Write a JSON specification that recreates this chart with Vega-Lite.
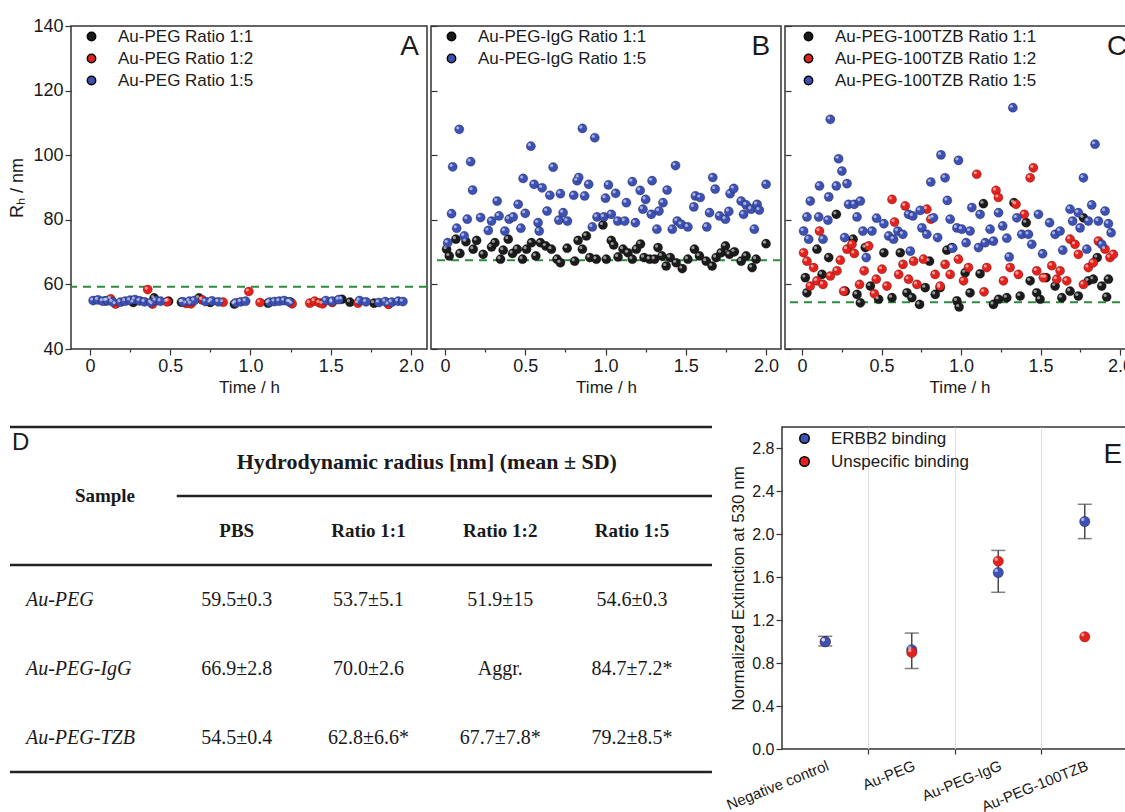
{
"$schema": "https://vega.github.io/schema/vega-lite/v6.json",
"background": "white",
"padding": {"left": 8, "top": 16, "right": 0, "bottom": 0},
"spacing": 29,
"config": {
  "font": "Liberation Sans",
  "view": {"stroke": "#333", "strokeWidth": 1.5},
  "axis": {"labelColor": "#1a1a1a", "titleColor": "#1a1a1a", "tickColor": "#333", "domainColor": "#333", "titleFontWeight": "normal", "grid": false, "tickWidth": 1.2},
  "legend": {"labelColor": "#1a1a1a", "labelLimit": 0}
},
"resolve": {"scale": {"color": "independent"}, "legend": {"color": "independent"}},
"datasets": {
  "ref": [
    {"panel": "A", "pbs": 59.3},
    {"panel": "B", "pbs": 67.5},
    {"panel": "C", "pbs": 54.5}
  ],
  "dlsA": [
    {"series": "Au-PEG Ratio 1:1", "t": 0.10, "rh": 54.9},
    {"series": "Au-PEG Ratio 1:1", "t": 0.27, "rh": 54.4},
    {"series": "Au-PEG Ratio 1:1", "t": 0.40, "rh": 55.8},
    {"series": "Au-PEG Ratio 1:1", "t": 0.49, "rh": 54.8},
    {"series": "Au-PEG Ratio 1:1", "t": 0.57, "rh": 54.5},
    {"series": "Au-PEG Ratio 1:1", "t": 0.68, "rh": 55.8},
    {"series": "Au-PEG Ratio 1:1", "t": 0.75, "rh": 54.4},
    {"series": "Au-PEG Ratio 1:1", "t": 0.90, "rh": 53.9},
    {"series": "Au-PEG Ratio 1:1", "t": 1.11, "rh": 54.2},
    {"series": "Au-PEG Ratio 1:1", "t": 1.25, "rh": 54.5},
    {"series": "Au-PEG Ratio 1:1", "t": 1.57, "rh": 55.4},
    {"series": "Au-PEG Ratio 1:1", "t": 1.62, "rh": 54.5},
    {"series": "Au-PEG Ratio 1:1", "t": 1.77, "rh": 54.2},
    {"series": "Au-PEG Ratio 1:2", "t": 0.13, "rh": 55.5},
    {"series": "Au-PEG Ratio 1:2", "t": 0.16, "rh": 53.9},
    {"series": "Au-PEG Ratio 1:2", "t": 0.36, "rh": 58.4},
    {"series": "Au-PEG Ratio 1:2", "t": 0.39, "rh": 53.9},
    {"series": "Au-PEG Ratio 1:2", "t": 0.48, "rh": 54.6},
    {"series": "Au-PEG Ratio 1:2", "t": 0.60, "rh": 54.1},
    {"series": "Au-PEG Ratio 1:2", "t": 0.63, "rh": 54.0},
    {"series": "Au-PEG Ratio 1:2", "t": 0.70, "rh": 55.2},
    {"series": "Au-PEG Ratio 1:2", "t": 0.83, "rh": 54.5},
    {"series": "Au-PEG Ratio 1:2", "t": 0.99, "rh": 57.8},
    {"series": "Au-PEG Ratio 1:2", "t": 1.06, "rh": 54.4},
    {"series": "Au-PEG Ratio 1:2", "t": 1.26, "rh": 54.0},
    {"series": "Au-PEG Ratio 1:2", "t": 1.37, "rh": 54.2},
    {"series": "Au-PEG Ratio 1:2", "t": 1.40, "rh": 54.8},
    {"series": "Au-PEG Ratio 1:2", "t": 1.43, "rh": 54.3},
    {"series": "Au-PEG Ratio 1:2", "t": 1.45, "rh": 54.0},
    {"series": "Au-PEG Ratio 1:2", "t": 1.51, "rh": 54.4},
    {"series": "Au-PEG Ratio 1:2", "t": 1.67, "rh": 54.2},
    {"series": "Au-PEG Ratio 1:2", "t": 1.86, "rh": 53.8},
    {"series": "Au-PEG Ratio 1:5", "t": 0.02, "rh": 55.0},
    {"series": "Au-PEG Ratio 1:5", "t": 0.05, "rh": 55.2},
    {"series": "Au-PEG Ratio 1:5", "t": 0.08, "rh": 54.8},
    {"series": "Au-PEG Ratio 1:5", "t": 0.11, "rh": 55.0},
    {"series": "Au-PEG Ratio 1:5", "t": 0.14, "rh": 54.6},
    {"series": "Au-PEG Ratio 1:5", "t": 0.19, "rh": 54.5},
    {"series": "Au-PEG Ratio 1:5", "t": 0.22, "rh": 54.8},
    {"series": "Au-PEG Ratio 1:5", "t": 0.25, "rh": 55.1},
    {"series": "Au-PEG Ratio 1:5", "t": 0.28, "rh": 55.3},
    {"series": "Au-PEG Ratio 1:5", "t": 0.31, "rh": 54.9},
    {"series": "Au-PEG Ratio 1:5", "t": 0.34, "rh": 54.6},
    {"series": "Au-PEG Ratio 1:5", "t": 0.38, "rh": 54.4},
    {"series": "Au-PEG Ratio 1:5", "t": 0.41, "rh": 55.0},
    {"series": "Au-PEG Ratio 1:5", "t": 0.44, "rh": 54.8},
    {"series": "Au-PEG Ratio 1:5", "t": 0.58, "rh": 54.6},
    {"series": "Au-PEG Ratio 1:5", "t": 0.62, "rh": 54.8},
    {"series": "Au-PEG Ratio 1:5", "t": 0.65, "rh": 55.0},
    {"series": "Au-PEG Ratio 1:5", "t": 0.72, "rh": 54.7},
    {"series": "Au-PEG Ratio 1:5", "t": 0.76, "rh": 54.9},
    {"series": "Au-PEG Ratio 1:5", "t": 0.80, "rh": 54.6},
    {"series": "Au-PEG Ratio 1:5", "t": 0.91, "rh": 54.3},
    {"series": "Au-PEG Ratio 1:5", "t": 0.94, "rh": 54.6},
    {"series": "Au-PEG Ratio 1:5", "t": 0.97, "rh": 54.8},
    {"series": "Au-PEG Ratio 1:5", "t": 1.12, "rh": 54.5},
    {"series": "Au-PEG Ratio 1:5", "t": 1.15, "rh": 54.7},
    {"series": "Au-PEG Ratio 1:5", "t": 1.18, "rh": 54.8},
    {"series": "Au-PEG Ratio 1:5", "t": 1.21, "rh": 55.0},
    {"series": "Au-PEG Ratio 1:5", "t": 1.24, "rh": 54.6},
    {"series": "Au-PEG Ratio 1:5", "t": 1.47, "rh": 55.0},
    {"series": "Au-PEG Ratio 1:5", "t": 1.51, "rh": 54.8},
    {"series": "Au-PEG Ratio 1:5", "t": 1.55, "rh": 55.3},
    {"series": "Au-PEG Ratio 1:5", "t": 1.68, "rh": 55.0},
    {"series": "Au-PEG Ratio 1:5", "t": 1.72, "rh": 54.6},
    {"series": "Au-PEG Ratio 1:5", "t": 1.80, "rh": 54.4},
    {"series": "Au-PEG Ratio 1:5", "t": 1.84, "rh": 54.7},
    {"series": "Au-PEG Ratio 1:5", "t": 1.88, "rh": 54.5},
    {"series": "Au-PEG Ratio 1:5", "t": 1.92, "rh": 54.8},
    {"series": "Au-PEG Ratio 1:5", "t": 1.95, "rh": 54.7}
  ],
  "dlsB": [
    {"series": "Au-PEG-IgG Ratio 1:1", "t": 0.01, "rh": 70.9},
    {"series": "Au-PEG-IgG Ratio 1:1", "t": 0.027, "rh": 68.8},
    {"series": "Au-PEG-IgG Ratio 1:1", "t": 0.068, "rh": 74.0},
    {"series": "Au-PEG-IgG Ratio 1:1", "t": 0.093, "rh": 69.6},
    {"series": "Au-PEG-IgG Ratio 1:1", "t": 0.131, "rh": 73.2},
    {"series": "Au-PEG-IgG Ratio 1:1", "t": 0.176, "rh": 70.9},
    {"series": "Au-PEG-IgG Ratio 1:1", "t": 0.197, "rh": 73.6},
    {"series": "Au-PEG-IgG Ratio 1:1", "t": 0.238, "rh": 69.3},
    {"series": "Au-PEG-IgG Ratio 1:1", "t": 0.29, "rh": 71.6},
    {"series": "Au-PEG-IgG Ratio 1:1", "t": 0.311, "rh": 72.9},
    {"series": "Au-PEG-IgG Ratio 1:1", "t": 0.346, "rh": 67.8},
    {"series": "Au-PEG-IgG Ratio 1:1", "t": 0.363, "rh": 70.6},
    {"series": "Au-PEG-IgG Ratio 1:1", "t": 0.394, "rh": 74.0},
    {"series": "Au-PEG-IgG Ratio 1:1", "t": 0.421, "rh": 69.6},
    {"series": "Au-PEG-IgG Ratio 1:1", "t": 0.45, "rh": 70.9},
    {"series": "Au-PEG-IgG Ratio 1:1", "t": 0.483, "rh": 67.8},
    {"series": "Au-PEG-IgG Ratio 1:1", "t": 0.508, "rh": 70.9},
    {"series": "Au-PEG-IgG Ratio 1:1", "t": 0.539, "rh": 72.9},
    {"series": "Au-PEG-IgG Ratio 1:1", "t": 0.566, "rh": 68.8},
    {"series": "Au-PEG-IgG Ratio 1:1", "t": 0.595, "rh": 72.9},
    {"series": "Au-PEG-IgG Ratio 1:1", "t": 0.628, "rh": 71.9},
    {"series": "Au-PEG-IgG Ratio 1:1", "t": 0.663, "rh": 70.9},
    {"series": "Au-PEG-IgG Ratio 1:1", "t": 0.698, "rh": 67.8},
    {"series": "Au-PEG-IgG Ratio 1:1", "t": 0.719, "rh": 66.7},
    {"series": "Au-PEG-IgG Ratio 1:1", "t": 0.761, "rh": 71.2},
    {"series": "Au-PEG-IgG Ratio 1:1", "t": 0.808, "rh": 67.2},
    {"series": "Au-PEG-IgG Ratio 1:1", "t": 0.829, "rh": 73.6},
    {"series": "Au-PEG-IgG Ratio 1:1", "t": 0.856, "rh": 70.9},
    {"series": "Au-PEG-IgG Ratio 1:1", "t": 0.881, "rh": 75.0},
    {"series": "Au-PEG-IgG Ratio 1:1", "t": 0.902, "rh": 68.3},
    {"series": "Au-PEG-IgG Ratio 1:1", "t": 0.943, "rh": 67.8},
    {"series": "Au-PEG-IgG Ratio 1:1", "t": 0.984, "rh": 78.4},
    {"series": "Au-PEG-IgG Ratio 1:1", "t": 1.005, "rh": 67.8},
    {"series": "Au-PEG-IgG Ratio 1:1", "t": 1.036, "rh": 73.6},
    {"series": "Au-PEG-IgG Ratio 1:1", "t": 1.051, "rh": 72.2},
    {"series": "Au-PEG-IgG Ratio 1:1", "t": 1.078, "rh": 68.5},
    {"series": "Au-PEG-IgG Ratio 1:1", "t": 1.109, "rh": 70.9},
    {"series": "Au-PEG-IgG Ratio 1:1", "t": 1.14, "rh": 69.8},
    {"series": "Au-PEG-IgG Ratio 1:1", "t": 1.167, "rh": 67.8},
    {"series": "Au-PEG-IgG Ratio 1:1", "t": 1.192, "rh": 70.9},
    {"series": "Au-PEG-IgG Ratio 1:1", "t": 1.218, "rh": 72.5},
    {"series": "Au-PEG-IgG Ratio 1:1", "t": 1.24, "rh": 68.3},
    {"series": "Au-PEG-IgG Ratio 1:1", "t": 1.275, "rh": 67.8},
    {"series": "Au-PEG-IgG Ratio 1:1", "t": 1.306, "rh": 67.8},
    {"series": "Au-PEG-IgG Ratio 1:1", "t": 1.327, "rh": 71.4},
    {"series": "Au-PEG-IgG Ratio 1:1", "t": 1.351, "rh": 68.8},
    {"series": "Au-PEG-IgG Ratio 1:1", "t": 1.378, "rh": 65.7},
    {"series": "Au-PEG-IgG Ratio 1:1", "t": 1.403, "rh": 68.3},
    {"series": "Au-PEG-IgG Ratio 1:1", "t": 1.44, "rh": 66.7},
    {"series": "Au-PEG-IgG Ratio 1:1", "t": 1.478, "rh": 64.9},
    {"series": "Au-PEG-IgG Ratio 1:1", "t": 1.513, "rh": 67.8},
    {"series": "Au-PEG-IgG Ratio 1:1", "t": 1.554, "rh": 70.9},
    {"series": "Au-PEG-IgG Ratio 1:1", "t": 1.585, "rh": 68.8},
    {"series": "Au-PEG-IgG Ratio 1:1", "t": 1.627, "rh": 67.2},
    {"series": "Au-PEG-IgG Ratio 1:1", "t": 1.664, "rh": 65.7},
    {"series": "Au-PEG-IgG Ratio 1:1", "t": 1.689, "rh": 68.3},
    {"series": "Au-PEG-IgG Ratio 1:1", "t": 1.72, "rh": 69.8},
    {"series": "Au-PEG-IgG Ratio 1:1", "t": 1.747, "rh": 71.9},
    {"series": "Au-PEG-IgG Ratio 1:1", "t": 1.772, "rh": 69.3},
    {"series": "Au-PEG-IgG Ratio 1:1", "t": 1.803, "rh": 70.1},
    {"series": "Au-PEG-IgG Ratio 1:1", "t": 1.845, "rh": 67.2},
    {"series": "Au-PEG-IgG Ratio 1:1", "t": 1.876, "rh": 68.8},
    {"series": "Au-PEG-IgG Ratio 1:1", "t": 1.913, "rh": 65.2},
    {"series": "Au-PEG-IgG Ratio 1:1", "t": 1.938, "rh": 67.8},
    {"series": "Au-PEG-IgG Ratio 1:1", "t": 2.0, "rh": 72.6},
    {"series": "Au-PEG-IgG Ratio 1:5", "t": 0.089, "rh": 108.0},
    {"series": "Au-PEG-IgG Ratio 1:5", "t": 0.048, "rh": 96.4},
    {"series": "Au-PEG-IgG Ratio 1:5", "t": 0.16, "rh": 98.0},
    {"series": "Au-PEG-IgG Ratio 1:5", "t": 0.172, "rh": 89.2},
    {"series": "Au-PEG-IgG Ratio 1:5", "t": 0.041, "rh": 81.9},
    {"series": "Au-PEG-IgG Ratio 1:5", "t": 0.017, "rh": 72.9},
    {"series": "Au-PEG-IgG Ratio 1:5", "t": 0.073, "rh": 77.4},
    {"series": "Au-PEG-IgG Ratio 1:5", "t": 0.139, "rh": 80.2},
    {"series": "Au-PEG-IgG Ratio 1:5", "t": 0.12, "rh": 75.0},
    {"series": "Au-PEG-IgG Ratio 1:5", "t": 0.222, "rh": 80.7},
    {"series": "Au-PEG-IgG Ratio 1:5", "t": 0.27, "rh": 76.7},
    {"series": "Au-PEG-IgG Ratio 1:5", "t": 0.29, "rh": 79.6},
    {"series": "Au-PEG-IgG Ratio 1:5", "t": 0.325, "rh": 85.8},
    {"series": "Au-PEG-IgG Ratio 1:5", "t": 0.337, "rh": 81.2},
    {"series": "Au-PEG-IgG Ratio 1:5", "t": 0.373, "rh": 76.5},
    {"series": "Au-PEG-IgG Ratio 1:5", "t": 0.4, "rh": 80.2},
    {"series": "Au-PEG-IgG Ratio 1:5", "t": 0.425, "rh": 80.9},
    {"series": "Au-PEG-IgG Ratio 1:5", "t": 0.456, "rh": 84.8},
    {"series": "Au-PEG-IgG Ratio 1:5", "t": 0.473, "rh": 77.4},
    {"series": "Au-PEG-IgG Ratio 1:5", "t": 0.487, "rh": 92.8},
    {"series": "Au-PEG-IgG Ratio 1:5", "t": 0.5, "rh": 82.0},
    {"series": "Au-PEG-IgG Ratio 1:5", "t": 0.535, "rh": 102.8},
    {"series": "Au-PEG-IgG Ratio 1:5", "t": 0.555, "rh": 91.0},
    {"series": "Au-PEG-IgG Ratio 1:5", "t": 0.58, "rh": 79.1},
    {"series": "Au-PEG-IgG Ratio 1:5", "t": 0.587, "rh": 76.5},
    {"series": "Au-PEG-IgG Ratio 1:5", "t": 0.605, "rh": 89.9},
    {"series": "Au-PEG-IgG Ratio 1:5", "t": 0.636, "rh": 82.7},
    {"series": "Au-PEG-IgG Ratio 1:5", "t": 0.653, "rh": 87.6},
    {"series": "Au-PEG-IgG Ratio 1:5", "t": 0.674, "rh": 96.3},
    {"series": "Au-PEG-IgG Ratio 1:5", "t": 0.709, "rh": 79.9},
    {"series": "Au-PEG-IgG Ratio 1:5", "t": 0.719, "rh": 88.1},
    {"series": "Au-PEG-IgG Ratio 1:5", "t": 0.736, "rh": 82.2},
    {"series": "Au-PEG-IgG Ratio 1:5", "t": 0.763, "rh": 79.6},
    {"series": "Au-PEG-IgG Ratio 1:5", "t": 0.802, "rh": 87.6},
    {"series": "Au-PEG-IgG Ratio 1:5", "t": 0.823, "rh": 92.1},
    {"series": "Au-PEG-IgG Ratio 1:5", "t": 0.833, "rh": 93.1},
    {"series": "Au-PEG-IgG Ratio 1:5", "t": 0.856, "rh": 108.3},
    {"series": "Au-PEG-IgG Ratio 1:5", "t": 0.87, "rh": 87.4},
    {"series": "Au-PEG-IgG Ratio 1:5", "t": 0.895, "rh": 91.0},
    {"series": "Au-PEG-IgG Ratio 1:5", "t": 0.933, "rh": 105.4},
    {"series": "Au-PEG-IgG Ratio 1:5", "t": 0.918, "rh": 77.8},
    {"series": "Au-PEG-IgG Ratio 1:5", "t": 0.947, "rh": 80.9},
    {"series": "Au-PEG-IgG Ratio 1:5", "t": 0.99, "rh": 80.9},
    {"series": "Au-PEG-IgG Ratio 1:5", "t": 1.0, "rh": 86.7},
    {"series": "Au-PEG-IgG Ratio 1:5", "t": 1.018, "rh": 90.8},
    {"series": "Au-PEG-IgG Ratio 1:5", "t": 1.036, "rh": 81.7},
    {"series": "Au-PEG-IgG Ratio 1:5", "t": 1.063, "rh": 88.2},
    {"series": "Au-PEG-IgG Ratio 1:5", "t": 1.076, "rh": 79.6},
    {"series": "Au-PEG-IgG Ratio 1:5", "t": 1.13, "rh": 85.3},
    {"series": "Au-PEG-IgG Ratio 1:5", "t": 1.12, "rh": 79.6},
    {"series": "Au-PEG-IgG Ratio 1:5", "t": 1.167, "rh": 91.8},
    {"series": "Au-PEG-IgG Ratio 1:5", "t": 1.186, "rh": 79.1},
    {"series": "Au-PEG-IgG Ratio 1:5", "t": 1.216, "rh": 89.1},
    {"series": "Au-PEG-IgG Ratio 1:5", "t": 1.233, "rh": 83.3},
    {"series": "Au-PEG-IgG Ratio 1:5", "t": 1.25, "rh": 86.3},
    {"series": "Au-PEG-IgG Ratio 1:5", "t": 1.29, "rh": 92.1},
    {"series": "Au-PEG-IgG Ratio 1:5", "t": 1.285, "rh": 81.7},
    {"series": "Au-PEG-IgG Ratio 1:5", "t": 1.32, "rh": 77.1},
    {"series": "Au-PEG-IgG Ratio 1:5", "t": 1.333, "rh": 82.7},
    {"series": "Au-PEG-IgG Ratio 1:5", "t": 1.358, "rh": 85.3},
    {"series": "Au-PEG-IgG Ratio 1:5", "t": 1.384, "rh": 89.2},
    {"series": "Au-PEG-IgG Ratio 1:5", "t": 1.416, "rh": 77.1},
    {"series": "Au-PEG-IgG Ratio 1:5", "t": 1.436, "rh": 96.8},
    {"series": "Au-PEG-IgG Ratio 1:5", "t": 1.447, "rh": 79.6},
    {"series": "Au-PEG-IgG Ratio 1:5", "t": 1.472, "rh": 78.6},
    {"series": "Au-PEG-IgG Ratio 1:5", "t": 1.513, "rh": 77.8},
    {"series": "Au-PEG-IgG Ratio 1:5", "t": 1.55, "rh": 84.0},
    {"series": "Au-PEG-IgG Ratio 1:5", "t": 1.56, "rh": 87.4},
    {"series": "Au-PEG-IgG Ratio 1:5", "t": 1.59, "rh": 86.9},
    {"series": "Au-PEG-IgG Ratio 1:5", "t": 1.631, "rh": 77.8},
    {"series": "Au-PEG-IgG Ratio 1:5", "t": 1.648, "rh": 82.2},
    {"series": "Au-PEG-IgG Ratio 1:5", "t": 1.668, "rh": 93.1},
    {"series": "Au-PEG-IgG Ratio 1:5", "t": 1.683, "rh": 89.5},
    {"series": "Au-PEG-IgG Ratio 1:5", "t": 1.71, "rh": 81.2},
    {"series": "Au-PEG-IgG Ratio 1:5", "t": 1.747, "rh": 80.2},
    {"series": "Au-PEG-IgG Ratio 1:5", "t": 1.768, "rh": 82.6},
    {"series": "Au-PEG-IgG Ratio 1:5", "t": 1.776, "rh": 88.1},
    {"series": "Au-PEG-IgG Ratio 1:5", "t": 1.799, "rh": 89.7},
    {"series": "Au-PEG-IgG Ratio 1:5", "t": 1.845, "rh": 85.8},
    {"series": "Au-PEG-IgG Ratio 1:5", "t": 1.86, "rh": 81.7},
    {"series": "Au-PEG-IgG Ratio 1:5", "t": 1.876, "rh": 84.6},
    {"series": "Au-PEG-IgG Ratio 1:5", "t": 1.907, "rh": 83.3},
    {"series": "Au-PEG-IgG Ratio 1:5", "t": 1.927, "rh": 77.1},
    {"series": "Au-PEG-IgG Ratio 1:5", "t": 1.944, "rh": 84.8},
    {"series": "Au-PEG-IgG Ratio 1:5", "t": 1.958, "rh": 83.0},
    {"series": "Au-PEG-IgG Ratio 1:5", "t": 2.0, "rh": 91.0}
  ],
  "dlsC": [
    {"series": "Au-PEG-100TZB Ratio 1:1", "t": 0.021, "rh": 62.1},
    {"series": "Au-PEG-100TZB Ratio 1:1", "t": 0.031, "rh": 57.4},
    {"series": "Au-PEG-100TZB Ratio 1:1", "t": 0.094, "rh": 70.9},
    {"series": "Au-PEG-100TZB Ratio 1:1", "t": 0.126, "rh": 63.1},
    {"series": "Au-PEG-100TZB Ratio 1:1", "t": 0.168, "rh": 68.3},
    {"series": "Au-PEG-100TZB Ratio 1:1", "t": 0.216, "rh": 81.7},
    {"series": "Au-PEG-100TZB Ratio 1:1", "t": 0.272, "rh": 57.9},
    {"series": "Au-PEG-100TZB Ratio 1:1", "t": 0.321, "rh": 74.0},
    {"series": "Au-PEG-100TZB Ratio 1:1", "t": 0.346, "rh": 56.9},
    {"series": "Au-PEG-100TZB Ratio 1:1", "t": 0.367, "rh": 54.3},
    {"series": "Au-PEG-100TZB Ratio 1:1", "t": 0.398, "rh": 71.4},
    {"series": "Au-PEG-100TZB Ratio 1:1", "t": 0.43, "rh": 59.5},
    {"series": "Au-PEG-100TZB Ratio 1:1", "t": 0.482, "rh": 55.4},
    {"series": "Au-PEG-100TZB Ratio 1:1", "t": 0.515, "rh": 69.8},
    {"series": "Au-PEG-100TZB Ratio 1:1", "t": 0.566, "rh": 55.9},
    {"series": "Au-PEG-100TZB Ratio 1:1", "t": 0.618, "rh": 69.8},
    {"series": "Au-PEG-100TZB Ratio 1:1", "t": 0.66, "rh": 57.4},
    {"series": "Au-PEG-100TZB Ratio 1:1", "t": 0.691, "rh": 55.9},
    {"series": "Au-PEG-100TZB Ratio 1:1", "t": 0.739, "rh": 53.8},
    {"series": "Au-PEG-100TZB Ratio 1:1", "t": 0.775, "rh": 59.0},
    {"series": "Au-PEG-100TZB Ratio 1:1", "t": 0.802, "rh": 67.2},
    {"series": "Au-PEG-100TZB Ratio 1:1", "t": 0.838, "rh": 56.9},
    {"series": "Au-PEG-100TZB Ratio 1:1", "t": 0.869, "rh": 59.0},
    {"series": "Au-PEG-100TZB Ratio 1:1", "t": 0.911, "rh": 70.6},
    {"series": "Au-PEG-100TZB Ratio 1:1", "t": 0.942, "rh": 71.4},
    {"series": "Au-PEG-100TZB Ratio 1:1", "t": 0.974, "rh": 54.9},
    {"series": "Au-PEG-100TZB Ratio 1:1", "t": 0.988, "rh": 53.0},
    {"series": "Au-PEG-100TZB Ratio 1:1", "t": 1.026, "rh": 63.6},
    {"series": "Au-PEG-100TZB Ratio 1:1", "t": 1.057, "rh": 57.4},
    {"series": "Au-PEG-100TZB Ratio 1:1", "t": 1.12, "rh": 63.3},
    {"series": "Au-PEG-100TZB Ratio 1:1", "t": 1.141, "rh": 85.0},
    {"series": "Au-PEG-100TZB Ratio 1:1", "t": 1.204, "rh": 53.8},
    {"series": "Au-PEG-100TZB Ratio 1:1", "t": 1.236, "rh": 55.4},
    {"series": "Au-PEG-100TZB Ratio 1:1", "t": 1.288, "rh": 55.9},
    {"series": "Au-PEG-100TZB Ratio 1:1", "t": 1.333, "rh": 85.3},
    {"series": "Au-PEG-100TZB Ratio 1:1", "t": 1.372, "rh": 56.4},
    {"series": "Au-PEG-100TZB Ratio 1:1", "t": 1.41, "rh": 79.1},
    {"series": "Au-PEG-100TZB Ratio 1:1", "t": 1.435, "rh": 61.1},
    {"series": "Au-PEG-100TZB Ratio 1:1", "t": 1.476, "rh": 57.4},
    {"series": "Au-PEG-100TZB Ratio 1:1", "t": 1.497, "rh": 55.4},
    {"series": "Au-PEG-100TZB Ratio 1:1", "t": 1.535, "rh": 62.1},
    {"series": "Au-PEG-100TZB Ratio 1:1", "t": 1.592, "rh": 59.5},
    {"series": "Au-PEG-100TZB Ratio 1:1", "t": 1.634, "rh": 55.9},
    {"series": "Au-PEG-100TZB Ratio 1:1", "t": 1.686, "rh": 57.9},
    {"series": "Au-PEG-100TZB Ratio 1:1", "t": 1.738, "rh": 56.4},
    {"series": "Au-PEG-100TZB Ratio 1:1", "t": 1.77, "rh": 80.6},
    {"series": "Au-PEG-100TZB Ratio 1:1", "t": 1.801, "rh": 61.1},
    {"series": "Au-PEG-100TZB Ratio 1:1", "t": 1.832, "rh": 61.6},
    {"series": "Au-PEG-100TZB Ratio 1:1", "t": 1.857, "rh": 68.3},
    {"series": "Au-PEG-100TZB Ratio 1:1", "t": 1.885, "rh": 59.5},
    {"series": "Au-PEG-100TZB Ratio 1:1", "t": 1.916, "rh": 56.1},
    {"series": "Au-PEG-100TZB Ratio 1:1", "t": 1.927, "rh": 61.6},
    {"series": "Au-PEG-100TZB Ratio 1:2", "t": 0.01, "rh": 69.8},
    {"series": "Au-PEG-100TZB Ratio 1:2", "t": 0.031, "rh": 67.2},
    {"series": "Au-PEG-100TZB Ratio 1:2", "t": 0.11, "rh": 76.5},
    {"series": "Au-PEG-100TZB Ratio 1:2", "t": 0.073, "rh": 65.2},
    {"series": "Au-PEG-100TZB Ratio 1:2", "t": 0.052, "rh": 59.5},
    {"series": "Au-PEG-100TZB Ratio 1:2", "t": 0.094, "rh": 61.1},
    {"series": "Au-PEG-100TZB Ratio 1:2", "t": 0.132, "rh": 60.0},
    {"series": "Au-PEG-100TZB Ratio 1:2", "t": 0.178, "rh": 62.6},
    {"series": "Au-PEG-100TZB Ratio 1:2", "t": 0.22, "rh": 64.2},
    {"series": "Au-PEG-100TZB Ratio 1:2", "t": 0.241, "rh": 67.5},
    {"series": "Au-PEG-100TZB Ratio 1:2", "t": 0.262, "rh": 57.9},
    {"series": "Au-PEG-100TZB Ratio 1:2", "t": 0.283, "rh": 70.9},
    {"series": "Au-PEG-100TZB Ratio 1:2", "t": 0.314, "rh": 72.4},
    {"series": "Au-PEG-100TZB Ratio 1:2", "t": 0.329, "rh": 69.6},
    {"series": "Au-PEG-100TZB Ratio 1:2", "t": 0.362, "rh": 60.0},
    {"series": "Au-PEG-100TZB Ratio 1:2", "t": 0.391, "rh": 64.2},
    {"series": "Au-PEG-100TZB Ratio 1:2", "t": 0.419, "rh": 71.9},
    {"series": "Au-PEG-100TZB Ratio 1:2", "t": 0.455, "rh": 57.1},
    {"series": "Au-PEG-100TZB Ratio 1:2", "t": 0.467, "rh": 61.6},
    {"series": "Au-PEG-100TZB Ratio 1:2", "t": 0.503, "rh": 64.7},
    {"series": "Au-PEG-100TZB Ratio 1:2", "t": 0.534, "rh": 59.5},
    {"series": "Au-PEG-100TZB Ratio 1:2", "t": 0.566, "rh": 86.3},
    {"series": "Au-PEG-100TZB Ratio 1:2", "t": 0.582, "rh": 79.3},
    {"series": "Au-PEG-100TZB Ratio 1:2", "t": 0.608, "rh": 63.1},
    {"series": "Au-PEG-100TZB Ratio 1:2", "t": 0.635, "rh": 66.2},
    {"series": "Au-PEG-100TZB Ratio 1:2", "t": 0.649, "rh": 84.3},
    {"series": "Au-PEG-100TZB Ratio 1:2", "t": 0.67, "rh": 61.6},
    {"series": "Au-PEG-100TZB Ratio 1:2", "t": 0.702, "rh": 67.2},
    {"series": "Au-PEG-100TZB Ratio 1:2", "t": 0.723, "rh": 60.0},
    {"series": "Au-PEG-100TZB Ratio 1:2", "t": 0.764, "rh": 67.8},
    {"series": "Au-PEG-100TZB Ratio 1:2", "t": 0.785, "rh": 83.3},
    {"series": "Au-PEG-100TZB Ratio 1:2", "t": 0.81, "rh": 80.2},
    {"series": "Au-PEG-100TZB Ratio 1:2", "t": 0.837, "rh": 63.1},
    {"series": "Au-PEG-100TZB Ratio 1:2", "t": 0.869, "rh": 59.5},
    {"series": "Au-PEG-100TZB Ratio 1:2", "t": 0.9, "rh": 66.2},
    {"series": "Au-PEG-100TZB Ratio 1:2", "t": 0.932, "rh": 63.1},
    {"series": "Au-PEG-100TZB Ratio 1:2", "t": 0.984, "rh": 67.8},
    {"series": "Au-PEG-100TZB Ratio 1:2", "t": 1.016, "rh": 61.1},
    {"series": "Au-PEG-100TZB Ratio 1:2", "t": 1.047, "rh": 65.2},
    {"series": "Au-PEG-100TZB Ratio 1:2", "t": 1.099, "rh": 94.1},
    {"series": "Au-PEG-100TZB Ratio 1:2", "t": 1.145, "rh": 57.7},
    {"series": "Au-PEG-100TZB Ratio 1:2", "t": 1.162, "rh": 65.2},
    {"series": "Au-PEG-100TZB Ratio 1:2", "t": 1.22, "rh": 89.1},
    {"series": "Au-PEG-100TZB Ratio 1:2", "t": 1.235, "rh": 86.9},
    {"series": "Au-PEG-100TZB Ratio 1:2", "t": 1.267, "rh": 61.1},
    {"series": "Au-PEG-100TZB Ratio 1:2", "t": 1.309, "rh": 65.2},
    {"series": "Au-PEG-100TZB Ratio 1:2", "t": 1.346, "rh": 84.8},
    {"series": "Au-PEG-100TZB Ratio 1:2", "t": 1.361, "rh": 63.1},
    {"series": "Au-PEG-100TZB Ratio 1:2", "t": 1.398, "rh": 81.7},
    {"series": "Au-PEG-100TZB Ratio 1:2", "t": 1.435, "rh": 93.0},
    {"series": "Au-PEG-100TZB Ratio 1:2", "t": 1.455, "rh": 96.1},
    {"series": "Au-PEG-100TZB Ratio 1:2", "t": 1.476, "rh": 64.2},
    {"series": "Au-PEG-100TZB Ratio 1:2", "t": 1.518, "rh": 62.1},
    {"series": "Au-PEG-100TZB Ratio 1:2", "t": 1.571, "rh": 65.8},
    {"series": "Au-PEG-100TZB Ratio 1:2", "t": 1.602, "rh": 61.6},
    {"series": "Au-PEG-100TZB Ratio 1:2", "t": 1.623, "rh": 64.2},
    {"series": "Au-PEG-100TZB Ratio 1:2", "t": 1.665, "rh": 61.1},
    {"series": "Au-PEG-100TZB Ratio 1:2", "t": 1.686, "rh": 74.0},
    {"series": "Au-PEG-100TZB Ratio 1:2", "t": 1.717, "rh": 72.4},
    {"series": "Au-PEG-100TZB Ratio 1:2", "t": 1.738, "rh": 69.3},
    {"series": "Au-PEG-100TZB Ratio 1:2", "t": 1.77, "rh": 60.0},
    {"series": "Au-PEG-100TZB Ratio 1:2", "t": 1.801, "rh": 65.2},
    {"series": "Au-PEG-100TZB Ratio 1:2", "t": 1.832, "rh": 66.7},
    {"series": "Au-PEG-100TZB Ratio 1:2", "t": 1.864, "rh": 73.4},
    {"series": "Au-PEG-100TZB Ratio 1:2", "t": 1.906, "rh": 70.9},
    {"series": "Au-PEG-100TZB Ratio 1:2", "t": 1.937, "rh": 68.3},
    {"series": "Au-PEG-100TZB Ratio 1:2", "t": 1.958, "rh": 69.3},
    {"series": "Au-PEG-100TZB Ratio 1:5", "t": 0.178, "rh": 111.1},
    {"series": "Au-PEG-100TZB Ratio 1:5", "t": 0.031, "rh": 80.9},
    {"series": "Au-PEG-100TZB Ratio 1:5", "t": 0.01, "rh": 76.5},
    {"series": "Au-PEG-100TZB Ratio 1:5", "t": 0.052, "rh": 85.8},
    {"series": "Au-PEG-100TZB Ratio 1:5", "t": 0.042, "rh": 74.0},
    {"series": "Au-PEG-100TZB Ratio 1:5", "t": 0.11, "rh": 90.5},
    {"series": "Au-PEG-100TZB Ratio 1:5", "t": 0.105, "rh": 80.9},
    {"series": "Au-PEG-100TZB Ratio 1:5", "t": 0.132, "rh": 74.0},
    {"series": "Au-PEG-100TZB Ratio 1:5", "t": 0.168, "rh": 87.1},
    {"series": "Au-PEG-100TZB Ratio 1:5", "t": 0.163, "rh": 79.9},
    {"series": "Au-PEG-100TZB Ratio 1:5", "t": 0.216, "rh": 90.5},
    {"series": "Au-PEG-100TZB Ratio 1:5", "t": 0.23, "rh": 98.9},
    {"series": "Au-PEG-100TZB Ratio 1:5", "t": 0.251, "rh": 95.1},
    {"series": "Au-PEG-100TZB Ratio 1:5", "t": 0.283, "rh": 91.2},
    {"series": "Au-PEG-100TZB Ratio 1:5", "t": 0.268, "rh": 74.5},
    {"series": "Au-PEG-100TZB Ratio 1:5", "t": 0.293, "rh": 84.8},
    {"series": "Au-PEG-100TZB Ratio 1:5", "t": 0.329, "rh": 84.8},
    {"series": "Au-PEG-100TZB Ratio 1:5", "t": 0.367, "rh": 85.8},
    {"series": "Au-PEG-100TZB Ratio 1:5", "t": 0.346, "rh": 80.9},
    {"series": "Au-PEG-100TZB Ratio 1:5", "t": 0.383, "rh": 76.5},
    {"series": "Au-PEG-100TZB Ratio 1:5", "t": 0.404, "rh": 68.3},
    {"series": "Au-PEG-100TZB Ratio 1:5", "t": 0.44, "rh": 76.5},
    {"series": "Au-PEG-100TZB Ratio 1:5", "t": 0.469, "rh": 80.5},
    {"series": "Au-PEG-100TZB Ratio 1:5", "t": 0.515, "rh": 78.8},
    {"series": "Au-PEG-100TZB Ratio 1:5", "t": 0.545, "rh": 75.0},
    {"series": "Au-PEG-100TZB Ratio 1:5", "t": 0.576, "rh": 74.0},
    {"series": "Au-PEG-100TZB Ratio 1:5", "t": 0.603, "rh": 76.5},
    {"series": "Au-PEG-100TZB Ratio 1:5", "t": 0.634, "rh": 75.5},
    {"series": "Au-PEG-100TZB Ratio 1:5", "t": 0.67, "rh": 81.7},
    {"series": "Au-PEG-100TZB Ratio 1:5", "t": 0.681, "rh": 70.3},
    {"series": "Au-PEG-100TZB Ratio 1:5", "t": 0.697, "rh": 81.2},
    {"series": "Au-PEG-100TZB Ratio 1:5", "t": 0.743, "rh": 82.9},
    {"series": "Au-PEG-100TZB Ratio 1:5", "t": 0.754, "rh": 77.5},
    {"series": "Au-PEG-100TZB Ratio 1:5", "t": 0.785, "rh": 75.5},
    {"series": "Au-PEG-100TZB Ratio 1:5", "t": 0.81, "rh": 91.7},
    {"series": "Au-PEG-100TZB Ratio 1:5", "t": 0.827, "rh": 80.6},
    {"series": "Au-PEG-100TZB Ratio 1:5", "t": 0.853, "rh": 74.5},
    {"series": "Au-PEG-100TZB Ratio 1:5", "t": 0.874, "rh": 100.1},
    {"series": "Au-PEG-100TZB Ratio 1:5", "t": 0.9, "rh": 93.0},
    {"series": "Au-PEG-100TZB Ratio 1:5", "t": 0.914, "rh": 86.0},
    {"series": "Au-PEG-100TZB Ratio 1:5", "t": 0.932, "rh": 80.2},
    {"series": "Au-PEG-100TZB Ratio 1:5", "t": 0.948, "rh": 71.2},
    {"series": "Au-PEG-100TZB Ratio 1:5", "t": 0.984, "rh": 98.4},
    {"series": "Au-PEG-100TZB Ratio 1:5", "t": 0.974, "rh": 77.5},
    {"series": "Au-PEG-100TZB Ratio 1:5", "t": 1.005, "rh": 77.1},
    {"series": "Au-PEG-100TZB Ratio 1:5", "t": 1.032, "rh": 72.9},
    {"series": "Au-PEG-100TZB Ratio 1:5", "t": 1.057, "rh": 76.5},
    {"series": "Au-PEG-100TZB Ratio 1:5", "t": 1.068, "rh": 83.8},
    {"series": "Au-PEG-100TZB Ratio 1:5", "t": 1.11, "rh": 71.4},
    {"series": "Au-PEG-100TZB Ratio 1:5", "t": 1.12, "rh": 81.7},
    {"series": "Au-PEG-100TZB Ratio 1:5", "t": 1.152, "rh": 72.9},
    {"series": "Au-PEG-100TZB Ratio 1:5", "t": 1.183, "rh": 77.1},
    {"series": "Au-PEG-100TZB Ratio 1:5", "t": 1.204, "rh": 73.4},
    {"series": "Au-PEG-100TZB Ratio 1:5", "t": 1.236, "rh": 82.2},
    {"series": "Au-PEG-100TZB Ratio 1:5", "t": 1.262, "rh": 78.1},
    {"series": "Au-PEG-100TZB Ratio 1:5", "t": 1.288, "rh": 74.3},
    {"series": "Au-PEG-100TZB Ratio 1:5", "t": 1.303, "rh": 68.5},
    {"series": "Au-PEG-100TZB Ratio 1:5", "t": 1.326, "rh": 114.7},
    {"series": "Au-PEG-100TZB Ratio 1:5", "t": 1.351, "rh": 80.6},
    {"series": "Au-PEG-100TZB Ratio 1:5", "t": 1.382, "rh": 75.5},
    {"series": "Au-PEG-100TZB Ratio 1:5", "t": 1.424, "rh": 75.5},
    {"series": "Au-PEG-100TZB Ratio 1:5", "t": 1.445, "rh": 72.4},
    {"series": "Au-PEG-100TZB Ratio 1:5", "t": 1.487, "rh": 81.7},
    {"series": "Au-PEG-100TZB Ratio 1:5", "t": 1.513, "rh": 69.5},
    {"series": "Au-PEG-100TZB Ratio 1:5", "t": 1.557, "rh": 79.1},
    {"series": "Au-PEG-100TZB Ratio 1:5", "t": 1.592, "rh": 75.5},
    {"series": "Au-PEG-100TZB Ratio 1:5", "t": 1.623, "rh": 76.5},
    {"series": "Au-PEG-100TZB Ratio 1:5", "t": 1.64, "rh": 70.6},
    {"series": "Au-PEG-100TZB Ratio 1:5", "t": 1.686, "rh": 83.3},
    {"series": "Au-PEG-100TZB Ratio 1:5", "t": 1.702, "rh": 79.6},
    {"series": "Au-PEG-100TZB Ratio 1:5", "t": 1.738, "rh": 82.2},
    {"series": "Au-PEG-100TZB Ratio 1:5", "t": 1.749, "rh": 77.5},
    {"series": "Au-PEG-100TZB Ratio 1:5", "t": 1.77, "rh": 93.0},
    {"series": "Au-PEG-100TZB Ratio 1:5", "t": 1.791, "rh": 70.9},
    {"series": "Au-PEG-100TZB Ratio 1:5", "t": 1.801, "rh": 79.6},
    {"series": "Au-PEG-100TZB Ratio 1:5", "t": 1.822, "rh": 84.6},
    {"series": "Au-PEG-100TZB Ratio 1:5", "t": 1.843, "rh": 103.4},
    {"series": "Au-PEG-100TZB Ratio 1:5", "t": 1.864, "rh": 79.6},
    {"series": "Au-PEG-100TZB Ratio 1:5", "t": 1.885, "rh": 72.4},
    {"series": "Au-PEG-100TZB Ratio 1:5", "t": 1.906, "rh": 82.7},
    {"series": "Au-PEG-100TZB Ratio 1:5", "t": 1.927, "rh": 78.8},
    {"series": "Au-PEG-100TZB Ratio 1:5", "t": 1.944, "rh": 76.0}
  ],
  "ext": [
    {"sample": "Negative control", "binding": "Unspecific binding", "value": 1.0},
    {"sample": "Negative control", "binding": "ERBB2 binding", "value": 1.0},
    {"sample": "Au-PEG", "binding": "ERBB2 binding", "value": 0.925},
    {"sample": "Au-PEG", "binding": "Unspecific binding", "value": 0.9},
    {"sample": "Au-PEG-IgG", "binding": "Unspecific binding", "value": 1.75},
    {"sample": "Au-PEG-IgG", "binding": "ERBB2 binding", "value": 1.645},
    {"sample": "Au-PEG-100TZB", "binding": "ERBB2 binding", "value": 2.12},
    {"sample": "Au-PEG-100TZB", "binding": "Unspecific binding", "value": 1.045}
  ],
  "exterr": [
    {"sample": "Negative control", "low": 0.96, "high": 1.05},
    {"sample": "Au-PEG", "low": 0.75, "high": 1.08},
    {"sample": "Au-PEG-IgG", "low": 1.46, "high": 1.85},
    {"sample": "Au-PEG-100TZB", "low": 1.96, "high": 2.28}
  ],
  "cells": [
    {"row": "Au-PEG", "col": "PBS", "text": "59.5±0.3"},
    {"row": "Au-PEG", "col": "Ratio 1:1", "text": "53.7±5.1"},
    {"row": "Au-PEG", "col": "Ratio 1:2", "text": "51.9±15"},
    {"row": "Au-PEG", "col": "Ratio 1:5", "text": "54.6±0.3"},
    {"row": "Au-PEG-IgG", "col": "PBS", "text": "66.9±2.8"},
    {"row": "Au-PEG-IgG", "col": "Ratio 1:1", "text": "70.0±2.6"},
    {"row": "Au-PEG-IgG", "col": "Ratio 1:2", "text": "Aggr."},
    {"row": "Au-PEG-IgG", "col": "Ratio 1:5", "text": "84.7±7.2*"},
    {"row": "Au-PEG-TZB", "col": "PBS", "text": "54.5±0.4"},
    {"row": "Au-PEG-TZB", "col": "Ratio 1:1", "text": "62.8±6.6*"},
    {"row": "Au-PEG-TZB", "col": "Ratio 1:2", "text": "67.7±7.8*"},
    {"row": "Au-PEG-TZB", "col": "Ratio 1:5", "text": "79.2±8.5*"}
  ],
  "rowlabels": [
    {"row": "Au-PEG", "col": "Sample", "text": "Au-PEG"},
    {"row": "Au-PEG-IgG", "col": "Sample", "text": "Au-PEG-IgG"},
    {"row": "Au-PEG-TZB", "col": "Sample", "text": "Au-PEG-TZB"}
  ],
  "headers": [
    {"row": "header", "col": "PBS", "text": "PBS"},
    {"row": "header", "col": "Ratio 1:1", "text": "Ratio 1:1"},
    {"row": "header", "col": "Ratio 1:2", "text": "Ratio 1:2"},
    {"row": "header", "col": "Ratio 1:5", "text": "Ratio 1:5"}
  ]
},
"vconcat": [
  {
    "spacing": 0,
    "resolve": {"scale": {"color": "independent"}, "legend": {"color": "independent"}},
    "hconcat": [
      {
        "width": 356, "height": 323,
        "layer": [
          {"data": {"name": "ref"}, "transform": [{"filter": "datum.panel == 'A'"}],
           "mark": {"type": "rule", "color": "#2e8b3e", "strokeDash": [8, 6], "strokeWidth": 2},
           "encoding": {"y": {"field": "pbs", "type": "quantitative", "title": "Rₕ / nm"}}},
          {"data": {"name": "dlsA"},
           "mark": {"type": "circle", "size": 85, "opacity": 1, "stroke": "#000", "strokeOpacity": 0.3, "strokeWidth": 0.8},
           "encoding": {
             "x": {"field": "t", "type": "quantitative", "title": "Time / h",
                   "scale": {"domain": [-0.118, 2.1], "nice": false, "zero": false},
                   "axis": {"values": [0, 0.25, 0.5, 0.75, 1, 1.25, 1.5, 1.75, 2], "labelExpr": "datum.value == 0 ? '0' : (datum.value*2 % 1 == 0 ? format(datum.value,'.1f') : '')", "tickSize": {"condition": {"test": "datum.value*2 % 1 == 0", "value": 6}, "value": 3}, "labelFontSize": 18, "titleFontSize": 17, "labelPadding": 2, "titlePadding": 4, "domain": false}},
             "y": {"field": "rh", "type": "quantitative", "title": "Rₕ / nm",
                   "scale": {"domain": [40, 140], "nice": false, "zero": false},
                   "axis": {"values": [40, 50, 60, 70, 80, 90, 100, 110, 120, 130, 140], "labelExpr": "datum.value % 20 == 0 ? datum.label : ''", "tickSize": {"condition": {"test": "datum.value % 20 == 0", "value": 6}, "value": 3}, "labelFontSize": 18, "titleFontSize": 18, "titlePadding": 6, "labelPadding": 2, "domain": false}},
             "color": {"field": "series", "type": "nominal",
                   "scale": {"domain": ["Au-PEG Ratio 1:1", "Au-PEG Ratio 1:2", "Au-PEG Ratio 1:5"], "range": ["#1b1b1b", "#e3221d", "#3d50b3"]},
                   "legend": {"orient": "none", "legendX": 12, "legendY": 2, "title": null, "labelFontSize": 17, "symbolSize": 70, "rowPadding": 4, "labelOffset": 18, "padding": 0}}
           }},
          {"data": {"name": "dlsA"},
           "mark": {"type": "circle", "size": 10, "color": "white", "opacity": 0.55, "xOffset": -1.5, "yOffset": -1.5},
           "encoding": {"x": {"field": "t", "type": "quantitative"}, "y": {"field": "rh", "type": "quantitative"}}},
          {"data": {"name": "ref"}, "transform": [{"filter": "datum.panel == 'A'"}],
           "mark": {"type": "text", "fontSize": 28, "align": "right", "baseline": "middle", "color": "#1a1a1a"},
           "encoding": {"x": {"datum": 2.05}, "y": {"datum": 133.5}, "text": {"field": "panel"}}}
        ]
      },
      {
        "width": 350, "height": 323,
        "layer": [
          {"data": {"name": "ref"}, "transform": [{"filter": "datum.panel == 'B'"}],
           "mark": {"type": "rule", "color": "#2e8b3e", "strokeDash": [8, 6], "strokeWidth": 2},
           "encoding": {"y": {"field": "pbs", "type": "quantitative", "title": null}}},
          {"data": {"name": "dlsB"},
           "mark": {"type": "circle", "size": 85, "opacity": 1, "stroke": "#000", "strokeOpacity": 0.3, "strokeWidth": 0.8},
           "encoding": {
             "x": {"field": "t", "type": "quantitative", "title": "Time / h",
                   "scale": {"domain": [-0.087, 2.093], "nice": false, "zero": false},
                   "axis": {"values": [0, 0.25, 0.5, 0.75, 1, 1.25, 1.5, 1.75, 2], "labelExpr": "datum.value == 0 ? '0' : (datum.value*2 % 1 == 0 ? format(datum.value,'.1f') : '')", "tickSize": {"condition": {"test": "datum.value*2 % 1 == 0", "value": 6}, "value": 3}, "labelFontSize": 18, "titleFontSize": 17, "labelPadding": 2, "titlePadding": 4, "domain": false}},
             "y": {"field": "rh", "type": "quantitative", "title": null,
                   "scale": {"domain": [40, 140], "nice": false, "zero": false},
                   "axis": {"values": [40, 50, 60, 70, 80, 90, 100, 110, 120, 130, 140], "labels": false, "tickSize": {"condition": {"test": "datum.value % 20 == 0", "value": -6}, "value": -3}, "domain": false}},
             "color": {"field": "series", "type": "nominal",
                   "scale": {"domain": ["Au-PEG-IgG Ratio 1:1", "Au-PEG-IgG Ratio 1:5"], "range": ["#1b1b1b", "#3d50b3"]},
                   "legend": {"orient": "none", "legendX": 12, "legendY": 2, "title": null, "labelFontSize": 17, "symbolSize": 70, "rowPadding": 4, "labelOffset": 18, "padding": 0}}
           }},
          {"data": {"name": "dlsB"},
           "mark": {"type": "circle", "size": 10, "color": "white", "opacity": 0.55, "xOffset": -1.5, "yOffset": -1.5},
           "encoding": {"x": {"field": "t", "type": "quantitative"}, "y": {"field": "rh", "type": "quantitative"}}},
          {"data": {"name": "ref"}, "transform": [{"filter": "datum.panel == 'B'"}],
           "mark": {"type": "text", "fontSize": 28, "align": "right", "baseline": "middle", "color": "#1a1a1a"},
           "encoding": {"x": {"datum": 2.025}, "y": {"datum": 133.5}, "text": {"field": "panel"}}}
        ]
      },
      {
        "width": 349, "height": 323,
        "layer": [
          {"data": {"name": "ref"}, "transform": [{"filter": "datum.panel == 'C'"}],
           "mark": {"type": "rule", "color": "#2e8b3e", "strokeDash": [8, 6], "strokeWidth": 2},
           "encoding": {"y": {"field": "pbs", "type": "quantitative", "title": null}}},
          {"data": {"name": "dlsC"},
           "mark": {"type": "circle", "size": 85, "opacity": 1, "stroke": "#000", "strokeOpacity": 0.3, "strokeWidth": 0.8},
           "encoding": {
             "x": {"field": "t", "type": "quantitative", "title": "Time / h",
                   "scale": {"domain": [-0.107, 2.088], "nice": false, "zero": false},
                   "axis": {"values": [0, 0.25, 0.5, 0.75, 1, 1.25, 1.5, 1.75, 2], "labelExpr": "datum.value == 0 ? '0' : (datum.value*2 % 1 == 0 ? format(datum.value,'.1f') : '')", "tickSize": {"condition": {"test": "datum.value*2 % 1 == 0", "value": 6}, "value": 3}, "labelFontSize": 18, "titleFontSize": 17, "labelPadding": 2, "titlePadding": 4, "domain": false}},
             "y": {"field": "rh", "type": "quantitative", "title": null,
                   "scale": {"domain": [40, 140], "nice": false, "zero": false},
                   "axis": {"values": [40, 50, 60, 70, 80, 90, 100, 110, 120, 130, 140], "labels": false, "tickSize": {"condition": {"test": "datum.value % 20 == 0", "value": -6}, "value": -3}, "domain": false}},
             "color": {"field": "series", "type": "nominal",
                   "scale": {"domain": ["Au-PEG-100TZB Ratio 1:1", "Au-PEG-100TZB Ratio 1:2", "Au-PEG-100TZB Ratio 1:5"], "range": ["#1b1b1b", "#e3221d", "#3d50b3"]},
                   "legend": {"orient": "none", "legendX": 15, "legendY": 2, "title": null, "labelFontSize": 17, "symbolSize": 70, "rowPadding": 4, "labelOffset": 18, "padding": 0}}
           }},
          {"data": {"name": "dlsC"},
           "mark": {"type": "circle", "size": 10, "color": "white", "opacity": 0.55, "xOffset": -1.5, "yOffset": -1.5},
           "encoding": {"x": {"field": "t", "type": "quantitative"}, "y": {"field": "rh", "type": "quantitative"}}},
          {"data": {"name": "ref"}, "transform": [{"filter": "datum.panel == 'C'"}],
           "mark": {"type": "text", "fontSize": 28, "align": "right", "baseline": "middle", "color": "#1a1a1a"},
           "encoding": {"x": {"datum": 2.045}, "y": {"datum": 133.5}, "text": {"field": "panel"}}}
        ]
      }
    ]
  },
  {
    "spacing": 9,
    "resolve": {"scale": {"color": "independent"}, "legend": {"color": "independent"}},
    "hconcat": [
      {
        "width": 641, "height": 345,
        "view": {"stroke": null},
        "layer": [
          {"data": {"values": [{"row": "title", "from": "Sample", "to": "Ratio 1:5"}]},
           "mark": {"type": "rule", "color": "#222", "strokeWidth": 2.5, "xOffset": -95, "x2Offset": 80},
           "encoding": {
             "y": {"field": "row", "type": "nominal", "bandPosition": 0, "axis": null,
                   "scale": {"type": "band", "domain": ["title", "header", "Au-PEG", "Au-PEG-IgG", "Au-PEG-TZB"], "paddingInner": 0, "paddingOuter": 0}},
             "x": {"field": "from", "type": "nominal", "axis": null,
                   "scale": {"type": "point", "domain": ["Sample", "PBS", "Ratio 1:1", "Ratio 1:2", "Ratio 1:5"], "padding": 0.4326, "align": 0.298}},
             "x2": {"field": "to"}}},
          {"data": {"values": [{"row": "Au-PEG", "from": "Sample", "to": "Ratio 1:5"}]},
           "mark": {"type": "rule", "color": "#222", "strokeWidth": 2.5, "xOffset": -95, "x2Offset": 80},
           "encoding": {
             "y": {"field": "row", "type": "nominal", "bandPosition": 0, "axis": null},
             "x": {"field": "from", "type": "nominal", "axis": null},
             "x2": {"field": "to"}}},
          {"data": {"values": [{"row": "Au-PEG-TZB", "from": "Sample", "to": "Ratio 1:5"}]},
           "mark": {"type": "rule", "color": "#222", "strokeWidth": 2.5, "xOffset": -95, "x2Offset": 80},
           "encoding": {
             "y": {"field": "row", "type": "nominal", "bandPosition": 1, "axis": null},
             "x": {"field": "from", "type": "nominal", "axis": null},
             "x2": {"field": "to"}}},
          {"data": {"values": [{"row": "header", "from": "PBS", "to": "Ratio 1:5"}]},
           "mark": {"type": "rule", "color": "#222", "strokeWidth": 2.5, "xOffset": -60, "x2Offset": 80},
           "encoding": {
             "y": {"field": "row", "type": "nominal", "bandPosition": 0, "axis": null},
             "x": {"field": "from", "type": "nominal", "axis": null},
             "x2": {"field": "to"}}},
          {"data": {"values": [{"row": "title", "col": "PBS", "text": "Hydrodynamic radius [nm] (mean ± SD)"}]},
           "mark": {"type": "text", "font": "Liberation Serif", "fontSize": 22, "fontWeight": "bold", "align": "left", "color": "#1a1a1a"},
           "encoding": {"y": {"field": "row", "type": "nominal", "axis": null}, "x": {"field": "col", "type": "nominal", "axis": null}, "text": {"field": "text"}}},
          {"data": {"values": [{"row": "header", "col": "Sample", "text": "Sample"}]},
           "mark": {"type": "text", "font": "Liberation Serif", "fontSize": 19, "fontWeight": "bold", "align": "center", "color": "#1a1a1a"},
           "encoding": {"y": {"field": "row", "type": "nominal", "bandPosition": 0, "axis": null}, "x": {"field": "col", "type": "nominal", "axis": null}, "text": {"field": "text"}}},
          {"data": {"values": [{"row": "title", "col": "Sample", "text": "D"}]},
           "mark": {"type": "text", "font": "Liberation Sans", "fontSize": 24, "align": "left", "baseline": "top", "dx": -93, "dy": 4, "color": "#1a1a1a"},
           "encoding": {"y": {"field": "row", "type": "nominal", "bandPosition": 0, "axis": null}, "x": {"field": "col", "type": "nominal", "axis": null}, "text": {"field": "text"}}},
          {"data": {"name": "headers"},
           "mark": {"type": "text", "font": "Liberation Serif", "fontSize": 19, "fontWeight": "bold", "align": "center", "color": "#1a1a1a"},
           "encoding": {"y": {"field": "row", "type": "nominal", "axis": null}, "x": {"field": "col", "type": "nominal", "axis": null}, "text": {"field": "text"}}},
          {"data": {"name": "rowlabels"},
           "mark": {"type": "text", "font": "Liberation Serif", "fontSize": 20, "fontStyle": "italic", "align": "left", "dx": -79, "color": "#1a1a1a"},
           "encoding": {"y": {"field": "row", "type": "nominal", "axis": null}, "x": {"field": "col", "type": "nominal", "axis": null}, "text": {"field": "text"}}},
          {"data": {"name": "cells"},
           "mark": {"type": "text", "font": "Liberation Serif", "fontSize": 20, "align": "center", "color": "#1a1a1a"},
           "encoding": {"y": {"field": "row", "type": "nominal", "axis": null}, "x": {"field": "col", "type": "nominal", "axis": null}, "text": {"field": "text"}}}
        ]
      },
      {
        "width": 346, "height": 322,
        "layer": [
          {"data": {"name": "exterr"},
           "mark": {"type": "errorbar", "ticks": {"size": 14, "thickness": 1.5}, "color": "#4a4a4a", "thickness": 1.5},
           "encoding": {
             "x": {"field": "sample", "type": "nominal", "title": null,
                   "scale": {"type": "band", "domain": ["Negative control", "Au-PEG", "Au-PEG-IgG", "Au-PEG-100TZB"], "paddingInner": 0, "paddingOuter": 0},
                   "axis": {"bandPosition": 1, "grid": true, "gridColor": "#dddddd", "gridWidth": 1, "labelAngle": -22, "labelAlign": "right", "labelBaseline": "top", "labelFontSize": 15, "tickSize": 5, "labelPadding": 4, "domain": false}},
             "y": {"field": "low", "type": "quantitative", "title": "Normalized Extinction at 530 nm",
                   "scale": {"domain": [0, 3.0], "nice": false},
                   "axis": {"values": [0, 0.2, 0.4, 0.6, 0.8, 1.0, 1.2, 1.4, 1.6, 1.8, 2.0, 2.2, 2.4, 2.6, 2.8], "labelExpr": "round(datum.value*10) % 4 == 0 ? format(datum.value, '.1f') : ''", "tickSize": {"condition": {"test": "round(datum.value*10) % 4 == 0", "value": 6}, "value": 3}, "labelFontSize": 16, "titleFontSize": 17, "titlePadding": 4, "labelPadding": 2, "domain": false}},
             "y2": {"field": "high"}
           }},
          {"data": {"name": "ext"},
           "mark": {"type": "circle", "size": 110, "opacity": 1, "stroke": "#000", "strokeOpacity": 0.3, "strokeWidth": 0.8},
           "encoding": {
             "x": {"field": "sample", "type": "nominal"},
             "y": {"field": "value", "type": "quantitative"},
             "color": {"field": "binding", "type": "nominal",
                       "scale": {"domain": ["ERBB2 binding", "Unspecific binding"], "range": ["#3d50b3", "#e3221d"]},
                       "legend": {"orient": "none", "legendX": 14, "legendY": 3, "title": null, "labelFontSize": 17, "symbolSize": 90, "rowPadding": 5, "labelOffset": 18, "padding": 0}}
           }},
          {"data": {"name": "ext"},
           "mark": {"type": "circle", "size": 12, "color": "white", "opacity": 0.55, "xOffset": -2, "yOffset": -2},
           "encoding": {"x": {"field": "sample", "type": "nominal"}, "y": {"field": "value", "type": "quantitative"}}},
          {"data": {"values": [{"label": "E"}]},
           "mark": {"type": "text", "fontSize": 28, "align": "center", "baseline": "middle", "dx": 28, "color": "#1a1a1a"},
           "encoding": {"x": {"datum": "Au-PEG-100TZB"}, "y": {"datum": 2.74}, "text": {"field": "label"}}}
        ]
      }
    ]
  }
]
}
